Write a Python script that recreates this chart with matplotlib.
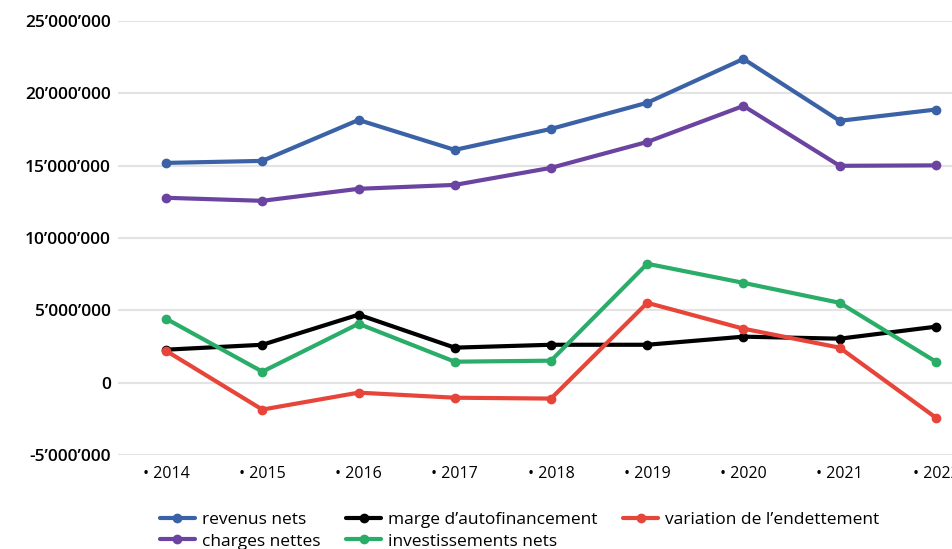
import numpy as np
import matplotlib.pyplot as plt
from matplotlib.ticker import FuncFormatter

years = ['2014', '2015', '2016', '2017', '2018', '2019', '2020', '2021', '2022']

revenus_nets = [15.19e6, 15.33e6, 18.16e6, 16.09e6, 17.54e6, 19.35e6, 22.38e6, 18.10e6, 18.88e6]
charges_nettes = [12.78e6, 12.57e6, 13.40e6, 13.67e6, 14.85e6, 16.64e6, 19.13e6, 14.99e6, 15.02e6]
marge_autofin = [2.28e6, 2.62e6, 4.70e6, 2.42e6, 2.62e6, 2.62e6, 3.18e6, 3.04e6, 3.87e6]
variation_endet = [2.20e6, -1.86e6, -0.69e6, -1.04e6, -1.10e6, 5.52e6, 3.73e6, 2.42e6, -2.42e6]
invest_nets = [4.42e6, 0.76e6, 4.07e6, 1.45e6, 1.52e6, 8.22e6, 6.90e6, 5.52e6, 1.45e6]

# ordre choisi pour que la légende (3 colonnes) se lise comme l'original
series = [
    ('revenus nets', revenus_nets, '#3B62A6'),
    ('charges nettes', charges_nettes, '#6A44A0'),
    ('marge d\u2019autofinancement', marge_autofin, '#000000'),
    ('investissements nets', invest_nets, '#2AAD68'),
    ('variation de l\u2019endettement', variation_endet, '#E8453A'),
]

plt.rcParams.update({
    'font.family': ['Open Sans', 'DejaVu Sans'],
    'font.size': 11,
})

fig = plt.figure(figsize=(9.53, 5.49), dpi=100)
ax = fig.add_axes([118 / 953, 94 / 549, 866 / 953, 434 / 549])

x = np.arange(len(years))
for name, vals, col in series:
    ax.plot(x, vals, color=col, lw=3, marker='o', ms=6, label=name,
            solid_capstyle='round', solid_joinstyle='round')

ax.set_xlim(-0.5, 8.5)
ax.set_ylim(-5e6, 25e6)
ax.set_yticks(np.arange(-5e6, 25e6 + 1, 5e6))
ax.yaxis.set_major_formatter(FuncFormatter(
    lambda v, p: '0' if v == 0 else f'{int(v):,}'.replace(',', '\u2019')))
ax.set_xticks(x)
ax.set_xticklabels(['\u2022 ' + y for y in years])
ax.tick_params(axis='x', length=0, labelsize=11.5, pad=8)
ax.tick_params(axis='y', length=0, labelsize=12.5, pad=5)
for lab in ax.get_yticklabels():
    lab.set_fontweight('semibold')

ax.grid(axis='y', color='#e3e3e3', lw=1.5)
ax.set_axisbelow(True)
for s in ax.spines.values():
    s.set_visible(False)

fig.legend(loc='upper left', bbox_to_anchor=(160 / 953, 1 - 512 / 549),
           ncol=3, frameon=False, fontsize=12.5, handlelength=2.0,
           handletextpad=0.4, columnspacing=1.5, labelspacing=0.3,
           borderaxespad=0, borderpad=0)

fig.savefig('out.png', dpi=100, facecolor='white')
